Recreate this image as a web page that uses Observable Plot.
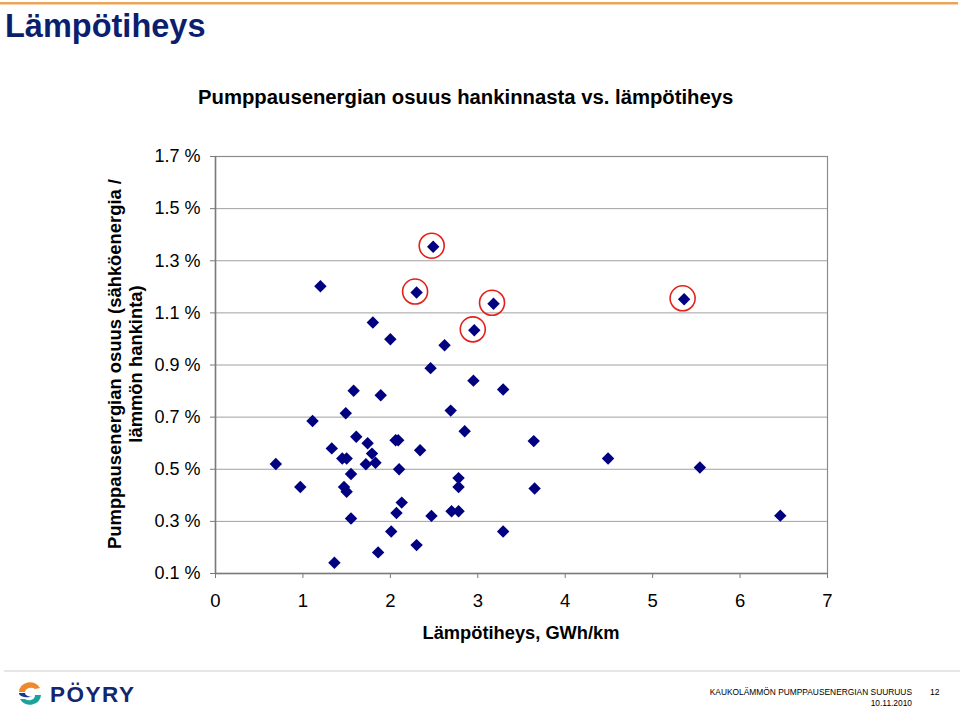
<!DOCTYPE html>
<html>
<head>
<meta charset="utf-8">
<script src="https://cdn.jsdelivr.net/npm/d3@7"></script>
<script src="https://cdn.jsdelivr.net/npm/@observablehq/plot@0.6"></script>
<style>
  html, body { margin: 0; padding: 0; background: #fff; }
  #wrap { position: relative; width: 960px; height: 711px; overflow: hidden; font-family: "Liberation Sans", Arial, sans-serif; }
  #wrap > svg { position: absolute; left: 0; top: 0; }
</style>
</head>
<body>
<div id="wrap"></div>
<script>
// Lämpötiheys (GWh/km)
const density = [2.49, 1.20, 2.30, 3.18, 1.80, 2.96, 2.00, 2.62, 2.46, 2.95, 3.29, 1.58, 1.89, 2.69, 1.49, 1.11, 2.85, 1.61, 2.06, 2.09, 1.74, 2.34, 1.33, 1.79, 1.45, 1.50, 0.69, 1.72, 1.83, 2.10, 1.55, 0.97, 1.47, 1.50, 2.78, 2.78, 2.13, 2.07, 2.70, 2.78, 2.47, 1.55, 2.01, 3.29, 2.30, 1.86, 1.36, 5.36, 3.64, 4.49, 5.54, 3.65, 6.46];
// Pumppausenergian osuus (%)
const share = [1.354, 1.202, 1.178, 1.135, 1.063, 1.033, 0.999, 0.976, 0.888, 0.840, 0.806, 0.801, 0.784, 0.725, 0.715, 0.685, 0.646, 0.625, 0.611, 0.611, 0.600, 0.573, 0.580, 0.560, 0.541, 0.541, 0.520, 0.519, 0.525, 0.500, 0.482, 0.432, 0.432, 0.414, 0.466, 0.432, 0.372, 0.332, 0.339, 0.339, 0.321, 0.311, 0.261, 0.261, 0.209, 0.181, 0.141, 1.152, 0.608, 0.541, 0.507, 0.426, 0.322];
// circled (highlighted) points
const circledX = [2.49, 2.30, 3.18, 2.96, 5.36];
const circledY = [1.354, 1.178, 1.135, 1.033, 1.152];

const xTicks = [0, 1, 2, 3, 4, 5, 6, 7];
const yTicks = [0.1, 0.3, 0.5, 0.7, 0.9, 1.1, 1.3, 1.5, 1.7];

const pageTitle = "Lämpötiheys";
const chartTitle = "Pumppausenergian osuus hankinnasta vs. lämpötiheys";
const yLabel1 = "Pumppausenergian osuus (sähköenergia /";
const yLabel2 = "lämmön hankinta)";
const xLabel = "Lämpötiheys, GWh/km";
const footer1 = "KAUKOLÄMMÖN PUMPPAUSENERGIAN SUURUUS";
const footer2 = "10.11.2010";
const pageNo = "12";
const brand = "PÖYRY";

const points = density.map((d, i) => ({x: d, y: share[i]}));
const circled = circledX.map((d, i) => ({x: d, y: circledY[i]}));

const chart = Plot.plot({
  width: 960,
  height: 711,
  marginLeft: 215,
  marginRight: 133,
  marginTop: 156,
  marginBottom: 138,
  style: {fontFamily: "'Liberation Sans', Arial, sans-serif", background: "transparent", color: "#000"},
  x: {domain: [0, 7]},
  y: {domain: [0.1, 1.7]},
  marks: [
    Plot.ruleY(yTicks, {stroke: "#a0a0a0", strokeWidth: 1}),
    Plot.frame({stroke: "#8c8c8c", strokeWidth: 1.2}),
    Plot.ruleX([0], {stroke: "#7a7a7a", strokeWidth: 1.5}),
    Plot.ruleY([0.1], {stroke: "#7a7a7a", strokeWidth: 1.5}),
    Plot.axisY({ticks: yTicks, tickSize: 5, tickPadding: 10, stroke: "#7a7a7a", fill: "#000", fontSize: 18, tickFormat: d => d.toFixed(1) + " %", label: null}),
    Plot.axisX({ticks: xTicks, tickSize: 5, tickPadding: 15, stroke: "#7a7a7a", fill: "#000", fontSize: 18.5, tickFormat: d => String(d), label: null}),
    Plot.dot(points, {x: "x", y: "y", symbol: "diamond2", r: 5.6, fill: "#000080", stroke: "none"}),
    Plot.dot(circled, {x: "x", y: "y", r: 12.5, dx: -1.5, dy: -1, fill: "none", stroke: "#e3211b", strokeWidth: 1.6})
  ]
});
document.getElementById("wrap").appendChild(chart);

// decorations & texts overlay
const svg = d3.select("#wrap").append("svg")
  .attr("width", 960).attr("height", 711)
  .style("pointer-events", "none")
  .style("font-family", "'Liberation Sans', Arial, sans-serif");

svg.append("rect").attr("x", 0).attr("y", 2).attr("width", 958).attr("height", 2.5).attr("fill", "#eba559");

svg.append("text").attr("x", 5).attr("y", 37).attr("font-size", 32.5).attr("font-weight", "bold")
  .attr("fill", "#0c1f6f").text(pageTitle);

svg.append("text").attr("x", 198).attr("y", 104).attr("font-size", 20.3).attr("font-weight", "bold")
  .attr("fill", "#000").text(chartTitle);

const yl = svg.append("g").attr("transform", "translate(0,364) rotate(-90)");
yl.append("text").attr("x", 0).attr("y", 121).attr("text-anchor", "middle").attr("font-size", 18.4)
  .attr("font-weight", "bold").text(yLabel1);
yl.append("text").attr("x", 0).attr("y", 142).attr("text-anchor", "middle").attr("font-size", 18.4)
  .attr("font-weight", "bold").text(yLabel2);

svg.append("text").attr("x", 521).attr("y", 639).attr("text-anchor", "middle").attr("font-size", 18.3)
  .attr("font-weight", "bold").text(xLabel);

// footer
svg.append("rect").attr("x", 4).attr("y", 670).attr("width", 956).attr("height", 2).attr("fill", "#e6e6e6");

const logo = svg.append("g").attr("transform", "translate(30,694)");
logo.append("path").attr("d", "M 10 -6 A 11 10 0 0 0 -11 -2 L -5 -2 A 6 5 0 0 1 5 -5 Z").attr("fill", "#ee8a2a");
logo.append("path").attr("d", "M -11 -1 A 8 4 0 0 0 0 3 L 4 3 A 8 4 0 0 1 -5 -1 Z").attr("fill", "#1b3a8c");
logo.append("path").attr("d", "M -10 5 A 11 10 0 0 0 11 1 L 5 1 A 6 5 0 0 1 -5 5 Z").attr("fill", "#1aa39a");
svg.append("text").attr("x", 50).attr("y", 702).attr("font-size", 22.5).attr("font-weight", "bold")
  .attr("fill", "#13266f").attr("letter-spacing", 1.5).text(brand);

svg.append("text").attr("x", 912).attr("y", 695).attr("text-anchor", "end").attr("font-size", 8.4)
  .attr("fill", "#000").text(footer1);
svg.append("text").attr("x", 912).attr("y", 706).attr("text-anchor", "end").attr("font-size", 8.4)
  .attr("fill", "#000").text(footer2);
svg.append("text").attr("x", 930).attr("y", 695).attr("font-size", 8.6).attr("fill", "#000").text(pageNo);
</script>
</body>
</html>
